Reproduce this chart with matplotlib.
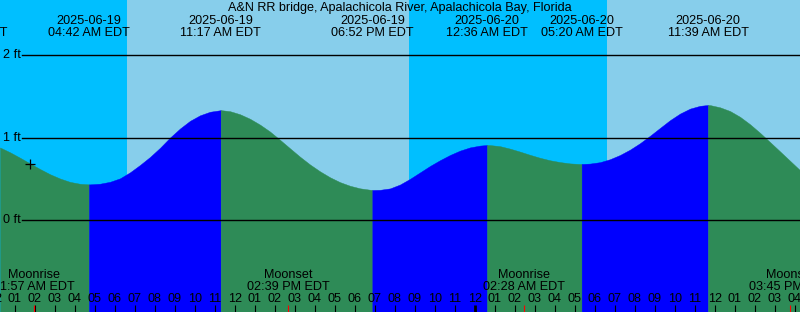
import matplotlib
matplotlib.use("Agg")
import matplotlib.pyplot as plt
import matplotlib.transforms as mtransforms
import numpy as np
from datetime import datetime

plt.rcParams['font.family'] = ['Liberation Sans', 'DejaVu Sans']

# ---------------------------------------------------------------------------
# Data
station = "A&N RR bridge, Apalachicola River, Apalachicola Bay, Florida"
start = datetime(2025, 6, 19, 0, 0)

# water level (ft), every half hour starting 2025-06-19 00:15
level_hours = np.arange(0.25, 40.5, 0.5)
level_ft = [0.879, 0.821, 0.755, 0.686, 0.618, 0.555, 0.503, 0.462, 0.439, 0.432,
            0.440, 0.463, 0.505, 0.578, 0.667, 0.764, 0.875, 0.999, 1.109, 1.202,
            1.269, 1.312, 1.330, 1.319, 1.282, 1.227, 1.156, 1.072, 0.972, 0.869,
            0.767, 0.673, 0.590, 0.518, 0.459, 0.415, 0.384, 0.367, 0.366, 0.383,
            0.430, 0.499, 0.577, 0.655, 0.725, 0.788, 0.841, 0.880, 0.902, 0.908,
            0.895, 0.865, 0.829, 0.790, 0.754, 0.724, 0.702, 0.686, 0.679, 0.684,
            0.701, 0.737, 0.788, 0.853, 0.931, 1.021, 1.116, 1.210, 1.290, 1.350,
            1.384, 1.393, 1.366, 1.321, 1.251, 1.161, 1.057, 0.945, 0.832, 0.718,
            0.604]

# tide extremes (high / low)
tide_times = ["2025-06-18 22:33", "2025-06-19 04:42", "2025-06-19 11:17",
              "2025-06-19 18:52", "2025-06-20 00:36", "2025-06-20 05:20",
              "2025-06-20 11:39"]
tide_ft = [0.98, 0.432, 1.332, 0.364, 0.909, 0.679, 1.394]

# moon events
moon_times = ["2025-06-19 01:57", "2025-06-19 14:39",
              "2025-06-20 02:28", "2025-06-20 15:45"]
moon_names = ["Moonrise", "Moonset", "Moonrise", "Moonset"]

# sun events -> day / night shading
sunrise = ["2025-06-19 06:36", "2025-06-20 06:37"]
sunset = ["2025-06-19 20:43"]

now_time = "2025-06-19 01:46"
now_ft = 0.68

# ---------------------------------------------------------------------------

def hrs(s):
    return (datetime.strptime(s, "%Y-%m-%d %H:%M") - start).total_seconds() / 3600.0

W, H = 800, 312
PX_PER_H = 20.0
X0 = -5.0          # pixel of 00:00 on the first day
Y0, PX_PER_FT = 220.0, 82.5

def fy(py):
    return 1 - py / H

fig = plt.figure(figsize=(W / 100, H / 100), dpi=100)
ax = fig.add_axes([0, 0, 1, 1])
ax.set_xlim(-X0 / PX_PER_H, (W - X0) / PX_PER_H)
ybot, ytop = (Y0 - H) / PX_PER_FT, Y0 / PX_PER_FT
ax.set_ylim(ybot, ytop)
ax.axis('off')
top = mtransforms.blended_transform_factory(ax.transData, fig.transFigure)

# day / night background
edges = sorted([(hrs(s), 'day') for s in sunrise] + [(hrs(s), 'night') for s in sunset])
prev = -10.0
state = 'night'
for t, new in edges + [(60.0, None)]:
    ax.axvspan(prev, t, color='deepskyblue' if state == 'night' else 'skyblue', lw=0)
    prev, state = t, new

# tide curve, rising in blue, falling in green
ext_t = np.array([hrs(s) for s in tide_times])
ext_h = np.array(tide_ft)
keep = (ext_t >= level_hours[0]) & (ext_t <= level_hours[-1])
t = np.concatenate([level_hours, ext_t[keep]])
h = np.concatenate([np.array(level_ft), ext_h[keep]])
order = np.argsort(t)
t, h = t[order], h[order]
bounds = [t[0]] + list(ext_t[keep]) + [t[-1]]
for a, b in zip(bounds[:-1], bounds[1:]):
    m = (t >= a) & (t <= b)
    col = 'blue' if h[m][-1] > h[m][0] else 'seagreen'
    ax.fill_between(t[m], ybot, h[m], facecolor=col, edgecolor=col, lw=0.3)

# height grid lines
for ft in [0, 1, 2]:
    ax.axhline(ft, xmin=22 / W, xmax=1, color='black', lw=1.0)
    py = Y0 - ft * PX_PER_FT
    fig.text(3 / W, fy(py + 3.3), f"{ft} ft", ha='left', va='baseline', fontsize=9.1)

# current time marker
ax.plot([hrs(now_time)], [now_ft], marker='+', ms=7, mew=0.9, color='black')

# title and tide labels
fig.text(0.5, fy(11), station, ha='center', va='baseline', fontsize=9.1)
for s in tide_times:
    d = datetime.strptime(s, "%Y-%m-%d %H:%M")
    x = hrs(s)
    ax.text(x, fy(24), d.strftime("%Y-%m-%d"), transform=top, ha='center', va='baseline', fontsize=9.1)
    ax.text(x, fy(36), d.strftime("%I:%M %p EDT"), transform=top, ha='center', va='baseline', fontsize=9.1)

# hour ticks
hours = np.arange(0, 41)
for hh in hours:
    midnight = hh % 24 == 0
    ax.vlines(hh, fy(312), fy(305), transform=top, colors='black', lw=2.0 if midnight else 0.8)
    lab = "12" if hh % 12 == 0 else f"{hh % 12:02d}"
    ax.text(hh, fy(302), lab, transform=top, ha='center', va='baseline', fontsize=9.1)

# moon events
for s, name in zip(moon_times, moon_names):
    d = datetime.strptime(s, "%Y-%m-%d %H:%M")
    x = hrs(s)
    ax.vlines(x, fy(312), fy(305), transform=top, colors='red', lw=0.8)
    ax.text(x, fy(278), name, transform=top, ha='center', va='baseline', fontsize=9.1)
    ax.text(x, fy(290), d.strftime("%I:%M %p EDT"), transform=top, ha='center', va='baseline', fontsize=9.1)

fig.savefig("out.png", dpi=100)
